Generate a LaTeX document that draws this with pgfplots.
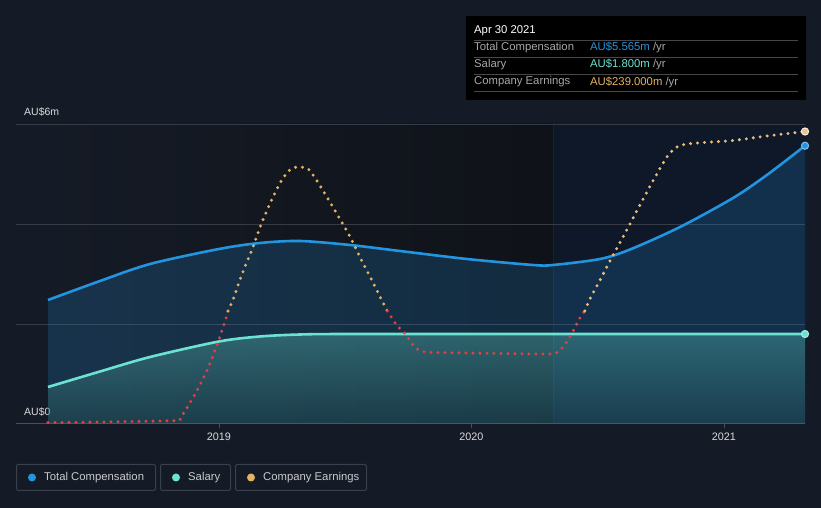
\documentclass[border=0pt]{standalone}
\usepackage{pgfplots}
\pgfplotsset{compat=1.18}
\usepackage{fontspec}
\setmainfont{Liberation Sans}

\definecolor{bgc}{HTML}{151B26}
\definecolor{darkl}{HTML}{0F1218}
\definecolor{darkr}{HTML}{0E1828}
\definecolor{gridc}{HTML}{363B45}
\definecolor{axisc}{HTML}{4A4F58}
\definecolor{tickc}{HTML}{DADADA}
\definecolor{legc}{HTML}{C8CACD}
\definecolor{boxc}{HTML}{3B414C}
\definecolor{tcblue}{HTML}{2394DF}
\definecolor{salteal}{HTML}{6CE3D2}
\definecolor{earngold}{HTML}{E3B264}
\definecolor{earnred}{HTML}{E4403F}
\definecolor{ttgray}{HTML}{A8A8A8}

% total compensation (AU$m)
\pgfplotstableread{
year value
2018.323 2.48
2018.529 2.86
2018.727 3.20
2019.000 3.50
2019.162 3.62
2019.321 3.66
2019.519 3.58
2019.717 3.46
2019.982 3.30
2020.244 3.18
2020.323 3.18
2020.509 3.30
2020.628 3.49
2020.826 3.94
2021.036 4.52
2021.170 4.98
2021.321 5.565
}\totalcomp

% salary (AU$m)
\pgfplotstableread{
year value
2018.323 0.74
2018.529 1.05
2018.727 1.34
2019.000 1.65
2019.162 1.75
2019.321 1.79
2019.519 1.80
2020.323 1.80
2021.321 1.80
}\salary

% company earnings (AU$m), split where they change sign
\pgfplotstableread{
year value
2018.323 -148.7
2018.529 -147.8
2018.826 -146.0
2018.846 -143.0
2018.885 -122.5
2018.925 -98.5
2018.962 -72.0
2018.997 -41.0
2019.030 -7.6
2019.036 0
}\earnredA
\pgfplotstableread{
year value
2019.036 0
2019.057 16
2019.090 48
2019.130 81
2019.169 117
2019.209 148
2019.248 174
2019.281 188
2019.314 192
2019.354 189
2019.387 174
2019.427 152
2019.466 130
2019.519 99
2019.558 72
2019.598 46
2019.638 19
2019.667 0
}\earngoldA
\pgfplotstableread{
year value
2019.667 0
2019.704 -19
2019.737 -30
2019.768 -45
2019.796 -53
2019.836 -55
2020.000 -56
2020.200 -57
2020.323 -57
2020.350 -52
2020.374 -43
2020.402 -27
2020.430 -9
2020.449 0
}\earnredB
\pgfplotstableread{
year value
2020.449 0
2020.469 16
2020.509 41
2020.549 67
2020.588 91
2020.628 116
2020.667 141
2020.707 166
2020.747 190
2020.774 205
2020.806 217
2020.846 222
2020.905 224
2021.036 227
2021.170 233
2021.321 239
}\earngoldB

\begin{document}
\begin{tikzpicture}[x=1bp,y=1bp]
\fill[bgc] (0,0) rectangle (821,508);
\useasboundingbox (0,0) rectangle (821,508);
% plot background
\shade[left color=bgc, right color=darkl] (48,84) rectangle (553,384);
\fill[darkr] (553,84) rectangle (805,384);
\draw[darkr!75!gridc, line width=0.8bp] (553,84) -- (553,384);
% grid
\foreach \y in {184,284,384} \draw[gridc, line width=0.9bp] (16,\y) -- (805,\y);
\draw[axisc, line width=1bp] (16,84) -- (805,84);
\node[anchor=base west, text=tickc, font=\fontsize{10.5bp}{12bp}\selectfont, inner sep=0] at (24,392) {AU\$6m};
\node[anchor=base west, text=tickc, font=\fontsize{10.5bp}{12bp}\selectfont, inner sep=0] at (24,92) {AU\$0};

\begin{axis}[
    at={(48bp,84bp)}, anchor=south west,
    scale only axis, width=757bp, height=300bp,
    xmin=2018.323, xmax=2021.321, ymin=0, ymax=6,
    axis line style={draw=none},
    ytick=\empty,
    xtick={2019,2020,2021}, xticklabels={2019,2020,2021},
    xtick pos=bottom,
    tick align=outside, major tick length=4bp,
    xtick style={draw=axisc, line width=0.8bp},
    xticklabel style={font=\fontsize{10.8bp}{12bp}\selectfont, text=tickc, yshift=-1bp},
    clip=false,
]
\addplot[draw=none, fill=tcblue, fill opacity=0.2, smooth] table {\totalcomp} \closedcycle;
\addplot[draw=none, top color=salteal, bottom color=salteal!40!black, fill opacity=0.3, smooth] table {\salary} \closedcycle;
\addplot[tcblue, line width=2.6bp, smooth] table {\totalcomp};
\addplot[salteal, line width=2.6bp, smooth] table {\salary};
\addplot[only marks, mark=*, mark size=3.6bp, mark options={fill=tcblue, draw=tcblue!60!white, line width=1bp}] coordinates {(2021.321,5.565)};
\addplot[only marks, mark=*, mark size=3.6bp, mark options={fill=salteal, draw=salteal!60!white, line width=1bp}] coordinates {(2021.321,1.8)};
\end{axis}

\begin{axis}[
    at={(48bp,84bp)}, anchor=south west,
    scale only axis, width=757bp, height=300bp,
    xmin=2018.323, xmax=2021.321, ymin=-150.5, ymax=249,
    hide axis, clip=false,
    every axis plot/.append style={line width=3.3bp, line cap=round, dash pattern=on 0bp off 7bp, smooth, tension=0.4},
]
\addplot[earnred] table {\earnredA};
\addplot[earngold] table {\earngoldA};
\addplot[earnred] table {\earnredB};
\addplot[earngold!85!white] table {\earngoldB};
\addplot[only marks, mark=*, mark size=3.6bp, mark options={solid, fill=earngold!75!white, draw=white!80!earngold, line width=1bp}] coordinates {(2021.321,239)};
\end{axis}

% tooltip
\fill[black] (466,408) rectangle (806,492);
\foreach \y in {468,451,434,417} \draw[white!28!black, line width=0.8bp] (474,\y) -- (798,\y);
\begin{scope}[every node/.style={anchor=west, inner sep=0, font=\fontsize{11.3bp}{13bp}\selectfont}]
\node[text=white] at (474,477) {Apr 30 2021};
\node[text=ttgray] at (474,460) {Total Compensation};
\node[text=ttgray] at (474,443) {Salary};
\node[text=ttgray] at (474,426) {Company Earnings};
\node at (590,460) {\textcolor{tcblue}{AU\$5.565m} \textcolor{ttgray}{/yr}};
\node at (590,443) {\textcolor{salteal}{AU\$1.800m} \textcolor{ttgray}{/yr}};
\node at (590,426) {\textcolor{earngold}{AU\$239.000m} \textcolor{ttgray}{/yr}};
\end{scope}

% legend
\begin{scope}[every node/.style={anchor=west, inner sep=0, text=legc, font=\fontsize{11.3bp}{13bp}\selectfont}]
\draw[boxc, line width=1bp, rounded corners=2bp] (16.5,17.5) rectangle (155.5,43.5);
\draw[boxc, line width=1bp, rounded corners=2bp] (160.5,17.5) rectangle (230.5,43.5);
\draw[boxc, line width=1bp, rounded corners=2bp] (235.5,17.5) rectangle (366.5,43.5);
\fill[tcblue] (32,30.5) circle (4);
\fill[salteal] (176,30.5) circle (4);
\fill[earngold] (251,30.5) circle (4);
\node at (44,30.5) {Total Compensation};
\node at (188,30.5) {Salary};
\node at (263,30.5) {Company Earnings};
\end{scope}
\end{tikzpicture}
\end{document}
